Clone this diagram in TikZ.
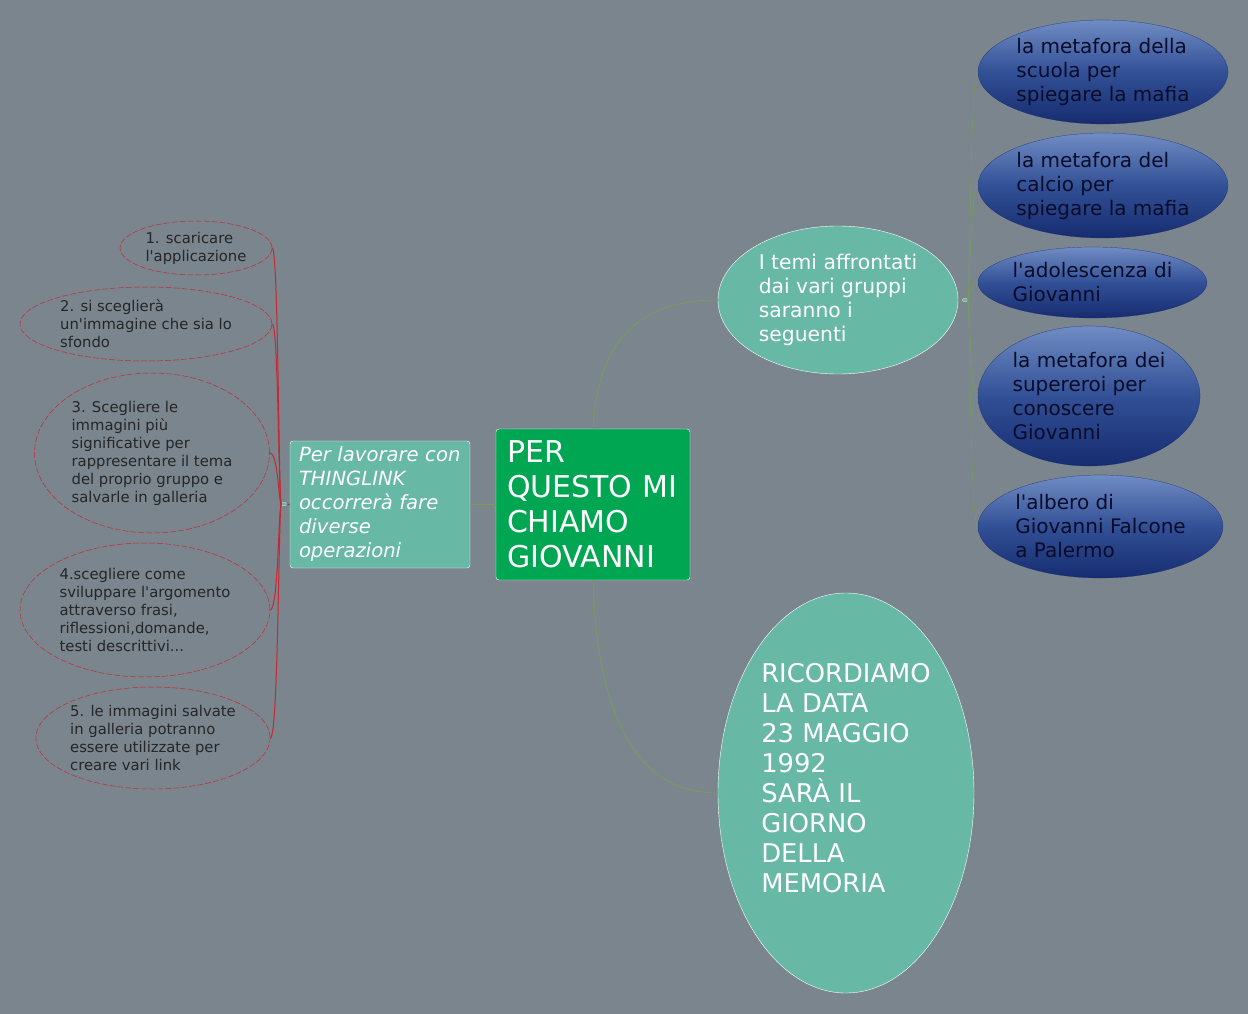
\documentclass[tikz,border=0pt]{standalone}
\usepackage{fontspec}
\setmainfont{DejaVu Sans}
\usetikzlibrary{shapes.geometric,positioning,calc}
\definecolor{bgslate}{RGB}{122,133,142}
\definecolor{mapgreen}{RGB}{0,166,81}
\definecolor{mapteal}{RGB}{104,184,166}
\definecolor{navytop}{RGB}{112,140,196}
\definecolor{navymid}{RGB}{50,80,150}
\definecolor{navybot}{RGB}{22,44,112}
\definecolor{navytext}{RGB}{8,12,40}
\definecolor{linkgreen}{RGB}{118,158,84}
\definecolor{linkred}{RGB}{196,40,48}
\newcommand\apos{\textquotesingle}

\begin{document}
\begin{tikzpicture}[x=1pt,y=-1pt,
  rootbox/.style={rectangle,rounded corners=3pt,draw=white,fill=mapgreen,text=white,
    align=left,inner xsep=11pt,font=\fontsize{30}{35}\selectfont},
  stepsbox/.style={rectangle,rounded corners=3pt,draw=white,fill=mapteal,text=white,
    align=left,inner xsep=9pt,font=\fontsize{19.6}{24}\itshape\selectfont},
  tealoval/.style={ellipse,draw=white,fill=mapteal,text=white,align=left,inner sep=0pt},
  themeoval/.style={ellipse,draw=navybot,very thin,top color=navytop,bottom color=navybot,
    middle color=navymid,text=navytext,align=left,inner sep=0pt,
    font=\fontsize{20}{24}\selectfont},
  stepoval/.style={ellipse,draw=linkred,line width=0.5pt,dash pattern=on 6pt off 2pt,
    text=black!85,align=left,inner sep=0pt,font=\fontsize{14.8}{18}\selectfont},
  hubmark/.style={rectangle,rounded corners=1pt,fill=mapteal,draw=white,line width=0.3pt,
    minimum width=5pt,minimum height=3pt,inner sep=0pt},
  glink/.style={draw=linkgreen,line width=0.8pt},
  rlink/.style={draw=linkred,line width=1pt}]
% Background and frame
\fill[bgslate] (0,0) rectangle (1248,1014);
\useasboundingbox (0,0) rectangle (1248,1014);
% Central topic
\node[rootbox,minimum width=194pt,minimum height=151pt,text width=172pt] (root) at (593,504.5)
  {PER\\QUESTO MI\\CHIAMO\\GIOVANNI};
% Left branch
\node[stepsbox,minimum width=180pt,minimum height=127pt,text width=162pt] (steps) at (380,504.5)
  {Per lavorare con\\THINGLINK\\occorrerà fare\\diverse\\operazioni};
\node[hubmark] (hubL) at (284,504) {};
\coordinate (spineL) at (278.5,504);
\node[stepoval,minimum width=152pt,minimum height=54pt] (s1) at (196,248)
  {1. scaricare\\l\apos applicazione};
\node[stepoval,minimum width=252pt,minimum height=74pt] (s2) at (146,324)
  {2. si sceglierà\\un\apos immagine che sia lo\\sfondo};
\node[stepoval,minimum width=235pt,minimum height=160pt] (s3) at (152,453)
  {3. Scegliere le\\immagini più\\significative per\\rappresentare il tema\\del proprio gruppo e\\salvarle in galleria};
\node[stepoval,minimum width=250pt,minimum height=134pt] (s4) at (145,610)
  {4.scegliere come\\sviluppare l\apos argomento\\attraverso frasi,\\riflessioni,domande,\\testi descrittivi...};
\node[stepoval,minimum width=234pt,minimum height=102pt] (s5) at (153,738)
  {5. le immagini salvate\\in galleria potranno\\essere utilizzate per\\creare vari link};
% Right branches
\node[tealoval,minimum width=240pt,minimum height=148pt,font=\fontsize{20.3}{24}\selectfont]
  (themes) at (838,300) {I temi affrontati\\dai vari gruppi\\saranno i\\seguenti};
\node[tealoval,minimum width=256pt,minimum height=400pt,font=\fontsize{25.8}{30}\selectfont]
  (memory) at (846,793) {RICORDIAMO\\LA DATA\\23 MAGGIO\\1992\\SARÀ IL\\GIORNO\\DELLA\\MEMORIA\\\mbox{}};
\node[hubmark] (hubR) at (965,300) {};
\coordinate (spineR) at (970,300);
\node[themeoval,minimum width=250pt,minimum height=104pt] (t1) at (1103,72)
  {la metafora della\\scuola per\\spiegare la mafia};
\node[themeoval,minimum width=250pt,minimum height=105pt] (t2) at (1103,185.5)
  {la metafora del\\calcio per\\spiegare la mafia};
\node[themeoval,minimum width=229pt,minimum height=71pt] (t3) at (1092.5,282.5)
  {l\apos adolescenza di\\Giovanni};
\node[themeoval,minimum width=222pt,minimum height=140pt] (t4) at (1089,396)
  {la metafora dei\\supereroi per\\conoscere\\Giovanni};
\node[themeoval,minimum width=245pt,minimum height=103pt] (t5) at (1100.5,526.5)
  {l\apos albero di\\Giovanni Falcone\\a Palermo};
% Connectors
\draw[glink] (root.north) .. controls (598,330) and (650,300) .. (themes.west);
\draw[glink] (root.south) .. controls (598,740) and (650,793) .. (memory.west);
\draw[glink] (root.west) -- (steps.east);
\draw[glink] (themes.east) -- (hubR.west);
\draw[rlink] (steps.west) -- (hubL.east);
\foreach \n in {s1,s2,s3,s4,s5}
  \draw[rlink] (hubL.west) .. controls (spineL) and (spineL |- \n.east) .. (\n.east);
\foreach \n in {t1,t2,t3,t4,t5}
  \draw[glink,line width=0.5pt] (hubR.east) .. controls (spineR) and (spineR |- \n.west) .. (\n.west);
\end{tikzpicture}
\end{document}
